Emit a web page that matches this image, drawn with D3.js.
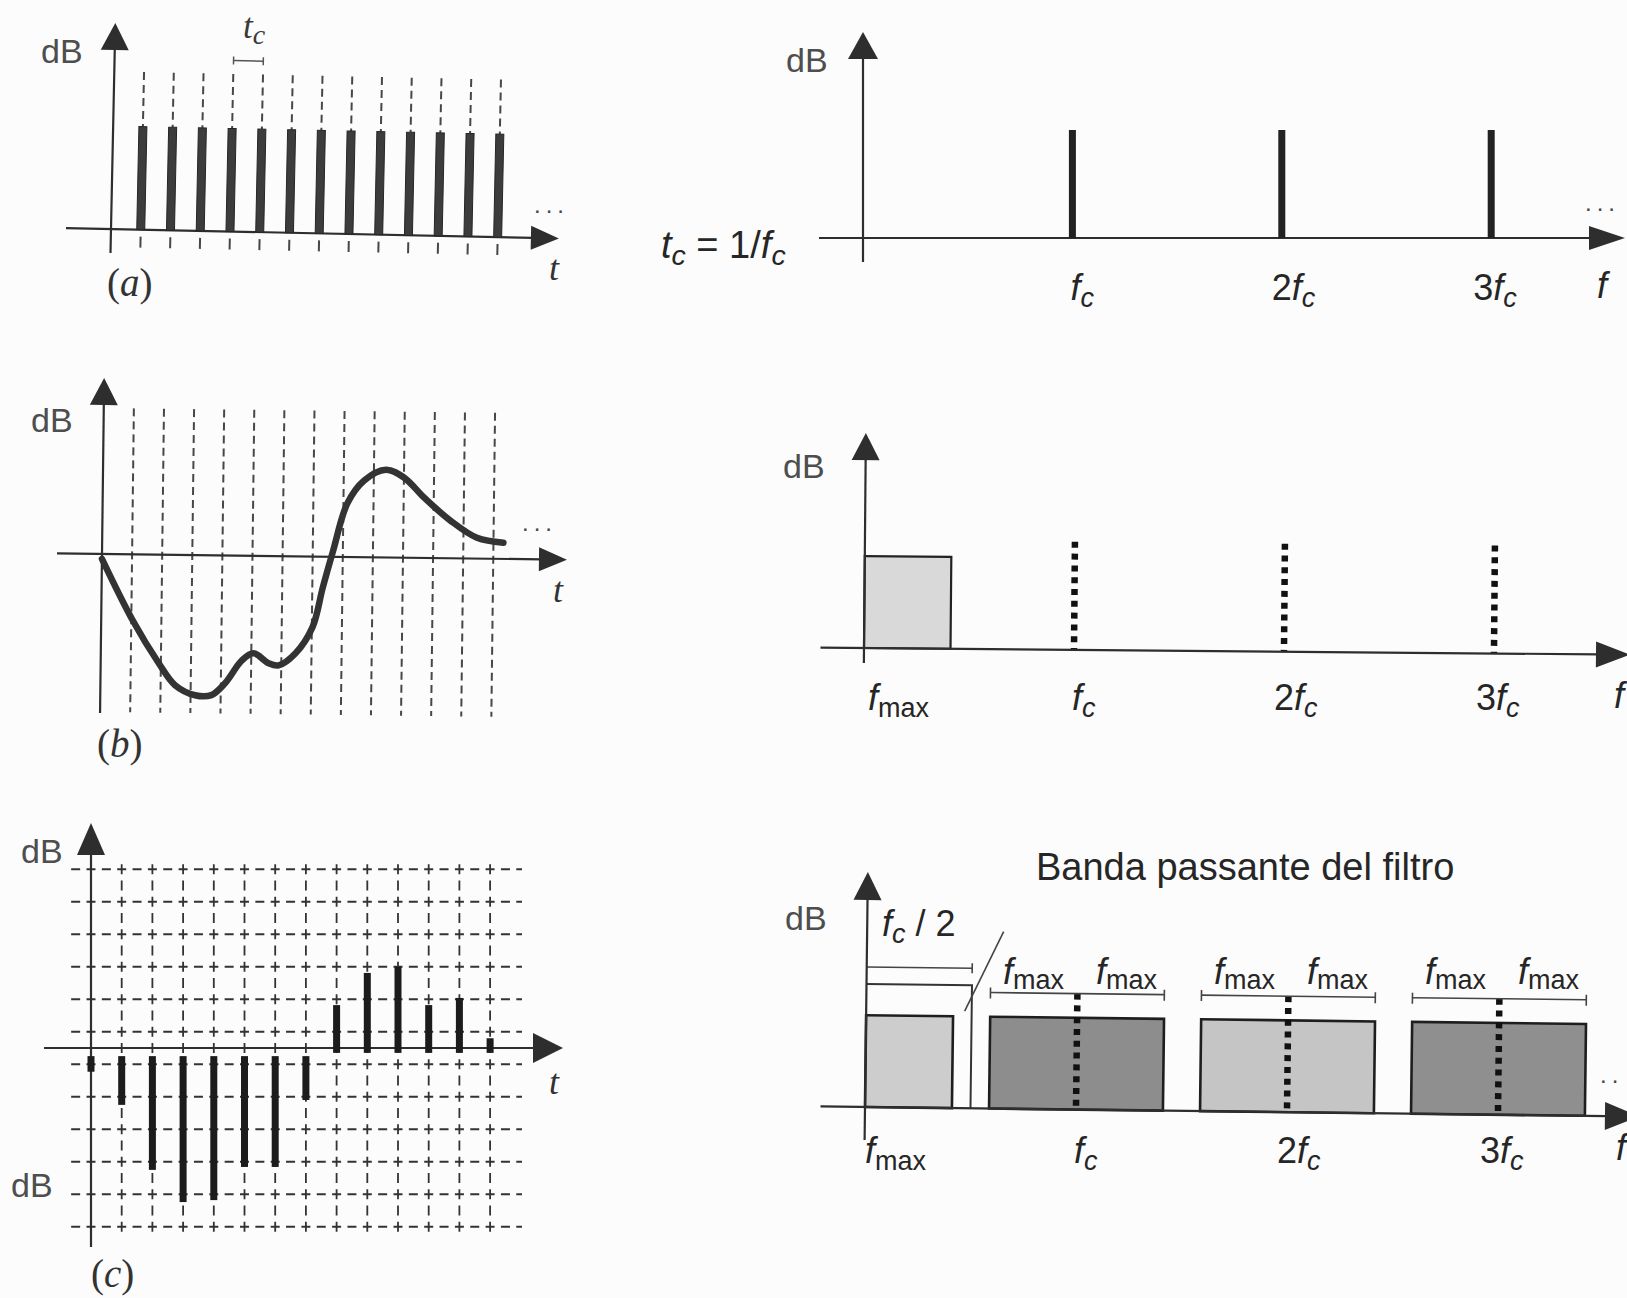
<!DOCTYPE html>
<html><head><meta charset="utf-8">
<script src="https://cdn.jsdelivr.net/npm/d3@7"></script>
<style>body{margin:0;background:#fcfcfc} text{white-space:pre}</style>
</head><body>
<script>
// ---------------- DATA ----------------
// (a) clock pulses at t = k·tc
const clockTimes = [1,2,3,4,5,6,7,8,9,10,11,12,13];
const clockLevel = [1,1,1,1,1,1,1,1,1,1,1,1,1];
// (b) analogue signal: t in tc units, level in grid units
const signalT = [0,1.04,1.93,2.48,3.15,3.69,4.14,4.69,5.08,5.58,5.91,6.47,7.02,7.35,7.68,8.13,8.68,9.4,10.01,10.67,11.56,12.45,13.33];
const signalV = [-0.15,-2.02,-3.34,-4.01,-4.31,-4.3,-3.93,-3.22,-3.0,-3.3,-3.36,-2.98,-2.18,-0.94,0.2,1.65,2.36,2.7,2.46,1.86,1.16,0.64,0.5];
// (c) sampled values
const sampleT = [0,1,2,3,4,5,6,7,8,9,10,11,12,13];
const sampleV = [-0.73,-1.75,-3.75,-4.74,-4.68,-3.66,-3.66,-1.6,1.32,2.31,2.5,1.32,1.54,0.3];
const gridLevels = [-5.5,-4.5,-3.5,-2.5,-1.5,-0.5,0.5,1.5,2.5,3.5,4.5,5.5];
// spectra
const harmonics = [1,2,3];
const harmonicPrefix = ['', '2', '3'];
const harmonicLevel = [1,1,1];
const fmaxRatio = 0.412;
const basebandLevel = 0.85;
const filterLevel = 1.14;

// ---------------- SETUP ----------------
const W=1627,H=1298;
const SANS='"Liberation Sans", Arial, Helvetica, sans-serif';
const SERIF='"Liberation Serif", "Times New Roman", serif';
const INK='#262626', AXIS='#2e2e2e', SOFT='#474747', DB='#4e4e4e';
const svg=d3.select('body').append('svg').attr('width',W).attr('height',H);
svg.append('rect').attr('width',W).attr('height',H).attr('fill','#fcfcfc');

function ln(g,x1,y1,x2,y2,sw,col,dash){
  const l=g.append('line').attr('x1',x1).attr('y1',y1).attr('x2',x2).attr('y2',y2)
   .attr('stroke',col||AXIS).attr('stroke-width',sw||2.2);
  if(dash) l.attr('stroke-dasharray',dash);
  return l;
}
function arrowUp(g,x,tipY,w,h){g.append('path').attr('d',`M${x},${tipY}L${x+w/2},${tipY+h}L${x-w/2},${tipY+h}Z`).attr('fill',AXIS);}
function arrowRight(g,tipX,y,w,h){g.append('path').attr('d',`M${tipX},${y}L${tipX-w},${y-h/2}L${tipX-w},${y+h/2}Z`).attr('fill',AXIS);}
function rich(x,y,parts,o){
  const t=svg.append('text').attr('x',x).attr('y',y).attr('font-family',o.font||SANS)
    .attr('font-size',o.size).attr('fill',o.fill||INK);
  let shift=0;
  parts.forEach(p=>{
    const target=p.sub?(o.subDy||7):0;
    const s=t.append('tspan').text(p.t).attr('dy',target-shift);
    shift=target;
    if(p.it) s.attr('font-style','italic');
    s.attr('font-size',p.sub?o.size*(o.subK||0.75):o.size);
  });
  return t;
}
function dots(x,y,txt){svg.append('text').attr('x',x).attr('y',y).attr('font-family',SANS).attr('font-size',24)
  .attr('letter-spacing',5).attr('fill',SOFT).text(txt||'...');}

// ---------------- PANEL (a) ----------------
const gA=svg.append('g').attr('transform','translate(111,229) rotate(1.2)');
const xA=d3.scaleLinear().domain([0,1]).range([0,29.75]);
const yA=d3.scaleLinear().domain([0,1]).range([0,-103]);
ln(gA,0,24,0,-182);
arrowUp(gA,0,-206,28,27);
ln(gA,-45,0,422,0);
arrowRight(gA,448,0,28,24);
gA.selectAll('line.guide').data(clockTimes).join('line').attr('class','guide')
  .attr('x1',d=>xA(d)).attr('x2',d=>xA(d)).attr('y1',yA(1.53)).attr('y2',yA(1))
  .attr('stroke',SOFT).attr('stroke-width',2).attr('stroke-dasharray','8,5');
gA.selectAll('line.tick').data(clockTimes).join('line').attr('class','tick')
  .attr('x1',d=>xA(d)).attr('x2',d=>xA(d)).attr('y1',7).attr('y2',18)
  .attr('stroke',SOFT).attr('stroke-width',2);
gA.selectAll('rect.bar').data(clockTimes).join('rect').attr('class','bar')
  .attr('x',d=>xA(d)-4).attr('width',8)
  .attr('y',(d,i)=>yA(clockLevel[i])).attr('height',(d,i)=>-yA(clockLevel[i]))
  .attr('fill','#3c3c3c').attr('stroke','#262626').attr('stroke-width',1);
ln(gA,xA(4),yA(1.66),xA(5),yA(1.66),1.5,'#555');
ln(gA,xA(4),yA(1.66)-4,xA(4),yA(1.66)+4,1.5,'#555');
ln(gA,xA(5),yA(1.66)-4,xA(5),yA(1.66)+4,1.5,'#555');
rich(41,63,[{t:'dB'}],{size:34,fill:DB});
rich(243,38,[{t:'t',it:true},{t:'c',it:true,sub:true}],{size:35,font:SERIF,fill:'#3a3a3a',subDy:6,subK:0.8});
rich(549,280,[{t:'t',it:true}],{size:36,font:SERIF,fill:'#333'});
rich(107,296,[{t:'('},{t:'a',it:true},{t:')'}],{size:39,font:SERIF,fill:'#333'});
dots(534,213);

// ---------------- PANEL (b) ----------------
const gB=svg.append('g').attr('transform','translate(102,554) rotate(0.7)');
const xB=d3.scaleLinear().domain([0,1]).range([0,30.1]);
const yB=d3.scaleLinear().domain([0,1]).range([0,-32.5]);
gB.selectAll('line.guide').data(clockTimes).join('line').attr('class','guide')
  .attr('x1',d=>xB(d)).attr('x2',d=>xB(d)).attr('y1',-146).attr('y2',158)
  .attr('stroke',SOFT).attr('stroke-width',2).attr('stroke-dasharray','8,5');
ln(gB,0,159,0,-152);
arrowUp(gB,0,-176,28,27);
ln(gB,-45,0,440,0);
arrowRight(gB,465,0,28,24);
const sig=signalT.map((t,i)=>[t,signalV[i]]);
gB.append('path').datum(sig)
  .attr('d',d3.line().x(d=>xB(d[0])).y(d=>yB(d[1])).curve(d3.curveCatmullRom.alpha(0.5)))
  .attr('fill','none').attr('stroke','#333').attr('stroke-width',6.5).attr('stroke-linecap','round').attr('stroke-linejoin','round');
rich(31,432,[{t:'dB'}],{size:34,fill:DB});
rich(553,602,[{t:'t',it:true}],{size:36,font:SERIF,fill:'#333'});
rich(97,757,[{t:'('},{t:'b',it:true},{t:')'}],{size:39,font:SERIF,fill:'#333'});
dots(522,531);

// ---------------- PANEL (c) ----------------
const gC=svg.append('g').attr('transform','translate(91,1048)');
const xC=d3.scaleLinear().domain([0,1]).range([0,30.7]);
const yC=d3.scaleLinear().domain([0,1]).range([0,-32.5]);
gC.selectAll('line.hg').data(gridLevels).join('line').attr('class','hg')
  .attr('x1',-4.5-15.35).attr('x2',431).attr('y1',d=>yC(d)).attr('y2',d=>yC(d))
  .attr('stroke','#333').attr('stroke-width',1.8).attr('stroke-dasharray','9,6.35');
gC.selectAll('line.vg').data(clockTimes).join('line').attr('class','vg')
  .attr('x1',d=>xC(d)).attr('x2',d=>xC(d)).attr('y1',-5-16.25*11).attr('y2',184)
  .attr('stroke','#333').attr('stroke-width',1.8).attr('stroke-dasharray','10,6.25');
ln(gC,0,199,0,-197);
arrowUp(gC,0,-225,28,32);
ln(gC,-47,0,445,0);
arrowRight(gC,472,0,30,30);
gC.selectAll('rect.smp').data(sampleT).join('rect').attr('class','smp')
  .attr('x',d=>xC(d)-3.5).attr('width',7)
  .attr('y',(d,i)=>sampleV[i]>0?yC(sampleV[i]):yC(-0.25))
  .attr('height',(d,i)=>sampleV[i]>0?yC(-0.15)-yC(sampleV[i]):yC(sampleV[i])-yC(-0.25))
  .attr('fill','#1c1c1c');
rich(21,863,[{t:'dB'}],{size:34,fill:DB});
rich(11,1197,[{t:'dB'}],{size:34,fill:DB});
rich(549,1094,[{t:'t',it:true}],{size:36,font:SERIF,fill:'#333'});
rich(91,1287,[{t:'('},{t:'c',it:true},{t:')'}],{size:39,font:SERIF,fill:'#333'});

// ---------------- PANEL top-right: clock spectrum ----------------
const gD=svg.append('g').attr('transform','translate(863,238)');
const xD=d3.scaleLinear().domain([0,1]).range([0,209.4]);
const yD=d3.scaleLinear().domain([0,1]).range([0,-108]);
ln(gD,0,24,0,-182);
arrowUp(gD,0,-206,30,27);
ln(gD,-44,0,730,0);
arrowRight(gD,762,0,36,24);
gD.selectAll('rect.sp').data(harmonics).join('rect').attr('class','sp')
  .attr('x',d=>xD(d)-3.5).attr('width',7)
  .attr('y',(d,i)=>yD(harmonicLevel[i])).attr('height',(d,i)=>-yD(harmonicLevel[i]))
  .attr('fill','#222');
rich(786,72,[{t:'dB'}],{size:34,fill:DB});
rich(661,258,[{t:'t',it:true},{t:'c',it:true,sub:true},{t:' = 1/'},{t:'f',it:true},{t:'c',it:true,sub:true}],{size:38});
harmonics.forEach((k,i)=>rich(863+xD(k)-2-8*i,300,[{t:harmonicPrefix[i]},{t:'f',it:true},{t:'c',it:true,sub:true}],{size:36}));
rich(1597,298,[{t:'f',it:true}],{size:36});
dots(1585,211);

// ---------------- PANEL middle-right: signal spectrum ----------------
const gE=svg.append('g').attr('transform','translate(864,648) rotate(0.5)');
const xE=d3.scaleLinear().domain([0,1]).range([0,210]);
const yE=d3.scaleLinear().domain([0,1]).range([0,-108]);
gE.append('rect').attr('x',0).attr('y',yE(basebandLevel)).attr('width',xE(fmaxRatio)).attr('height',-yE(basebandLevel))
  .attr('fill','#d9d9d9').attr('stroke','#222').attr('stroke-width',2.2);
gE.selectAll('line.dot').data(harmonics).join('line').attr('class','dot')
  .attr('x1',d=>xE(d)).attr('x2',d=>xE(d)).attr('y1',(d,i)=>yE(harmonicLevel[i])).attr('y2',0)
  .attr('stroke','#111').attr('stroke-width',6.5).attr('stroke-dasharray','6,5.8');
ln(gE,0,15,0,-190);
arrowUp(gE,0,-215,28,27);
ln(gE,-43.5,0,735,0);
arrowRight(gE,766,0,34,26);
rich(783,478,[{t:'dB'}],{size:34,fill:DB});
rich(868,710,[{t:'f',it:true},{t:'max',sub:true}],{size:36});
harmonics.forEach((k,i)=>rich(864+xE(k)-2-8*i,710,[{t:harmonicPrefix[i]},{t:'f',it:true},{t:'c',it:true,sub:true}],{size:36}));
rich(1614,708,[{t:'f',it:true}],{size:36});

// ---------------- PANEL bottom-right: sampled spectrum ----------------
const gF=svg.append('g').attr('transform','translate(865,1107) rotate(0.7)');
const xF=d3.scaleLinear().domain([0,1]).range([0,211]);
const yF=d3.scaleLinear().domain([0,1]).range([0,-108]);
const bandFill=['#cdcdcd','#8d8d8d','#c5c5c5','#8f8f8f'];
const bands=[[0,fmaxRatio]].concat(harmonics.map(k=>[k-fmaxRatio,k+fmaxRatio]));
gF.selectAll('rect.band').data(bands).join('rect').attr('class','band')
  .attr('x',d=>xF(d[0])).attr('width',d=>xF(d[1])-xF(d[0]))
  .attr('y',yF(basebandLevel)).attr('height',-yF(basebandLevel))
  .attr('fill',(d,i)=>bandFill[i]).attr('stroke','#1e1e1e').attr('stroke-width',2.6);
gF.selectAll('line.dot').data(harmonics).join('line').attr('class','dot')
  .attr('x1',d=>xF(d)).attr('x2',d=>xF(d)).attr('y1',-116).attr('y2',0)
  .attr('stroke','#111').attr('stroke-width',6.5).attr('stroke-dasharray','6,5.8');
// filter pass band outline and fc/2 bracket
gF.append('path').attr('d',`M0,${yF(filterLevel)}H${xF(0.5)}V0`).attr('fill','none').attr('stroke','#333').attr('stroke-width',2);
ln(gF,0,-140,xF(0.5),-140,1.6,'#444');
ln(gF,xF(0.5),-145,xF(0.5),-135,1.6,'#444');
ln(gF,xF(0.5)+31,-177,xF(0.5)-7,-97,1.6,'#444');
// fmax brackets
harmonics.forEach(k=>{
  ln(gF,xF(k-fmaxRatio),-116,xF(k+fmaxRatio),-116,1.6,'#444');
  ln(gF,xF(k-fmaxRatio),-121,xF(k-fmaxRatio),-110,1.6,'#444');
  ln(gF,xF(k+fmaxRatio),-121,xF(k+fmaxRatio),-110,1.6,'#444');
});
ln(gF,0,33,0,-210);
arrowUp(gF,0,-235,28,28);
ln(gF,-44.5,0,742,0);
arrowRight(gF,774,0,34,28);
svg.append('text').attr('x',1036).attr('y',880).attr('font-family',SANS).attr('font-size',38).attr('fill',INK)
  .text('Banda passante del filtro');
rich(785,930,[{t:'dB'}],{size:34,fill:DB});
rich(882,936,[{t:'f',it:true},{t:'c',it:true,sub:true},{t:' / 2'}],{size:36});
harmonics.forEach((k,i)=>{
  const cx=865+xF(k);
  rich(865+xF(k-fmaxRatio)+14,984,[{t:'f',it:true},{t:'max',sub:true}],{size:36,subDy:5});
  rich(cx+20,984,[{t:'f',it:true},{t:'max',sub:true}],{size:36,subDy:5});
});
rich(865,1163,[{t:'f',it:true},{t:'max',sub:true}],{size:36});
harmonics.forEach((k,i)=>rich(865+xF(k)-2-8*i,1163,[{t:harmonicPrefix[i]},{t:'f',it:true},{t:'c',it:true,sub:true}],{size:36}));
rich(1616,1160,[{t:'f',it:true}],{size:36});
dots(1600,1083,'..');
</script>
</body></html>
